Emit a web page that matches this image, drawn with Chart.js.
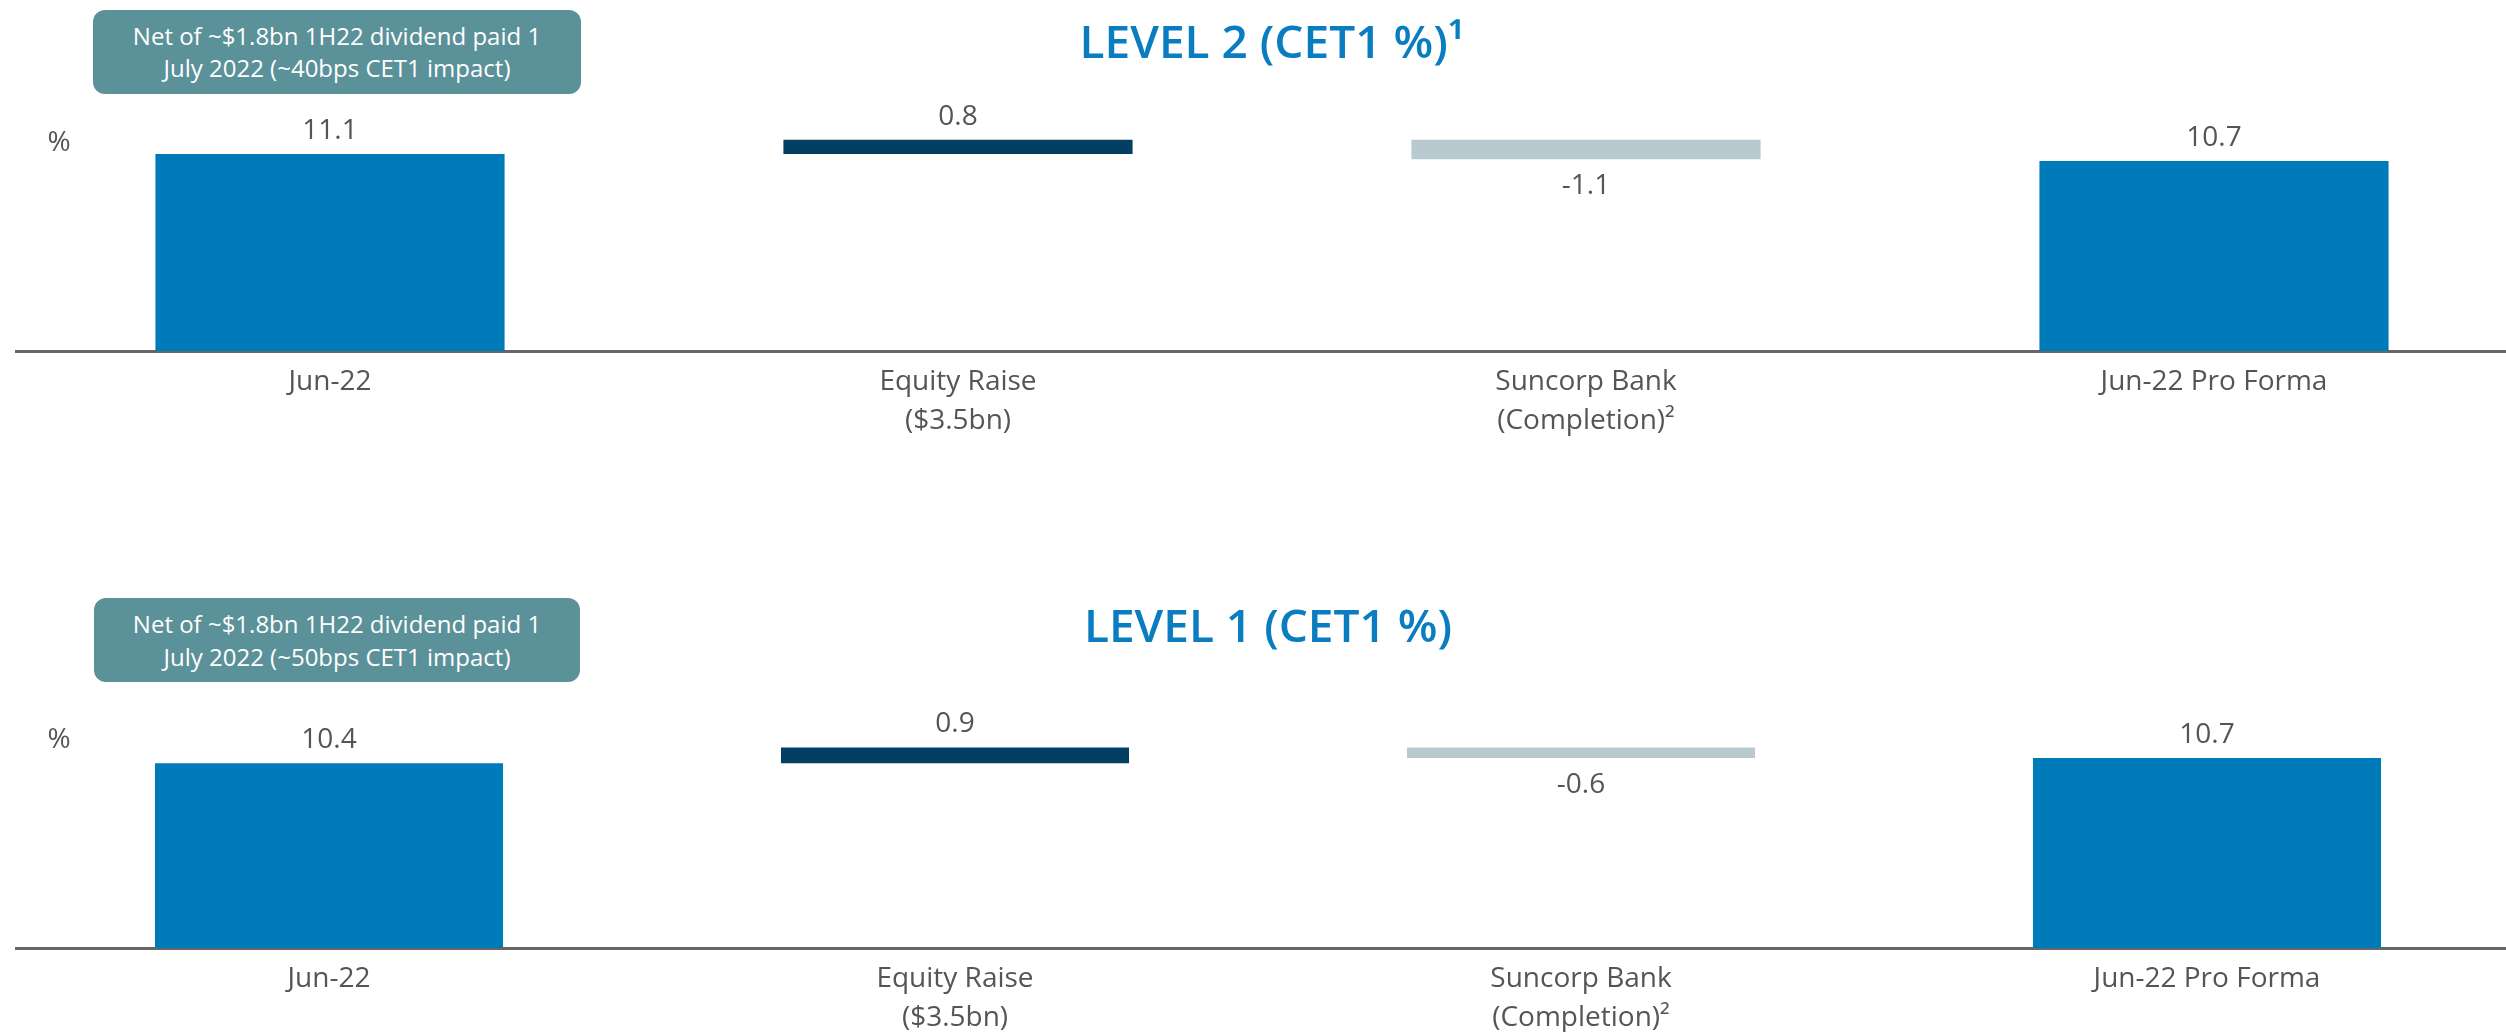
<!DOCTYPE html>
<html>
<head>
<meta charset="utf-8">
<script src="https://cdn.jsdelivr.net/npm/chart.js@4.4.1/dist/chart.umd.min.js"></script>
<style>
  html, body { margin: 0; padding: 0; background: #fff; overflow: hidden; width: 2506px; height: 1032px; position: relative; }
  canvas { position: absolute; left: 0; }
  .note {
    position: absolute; box-sizing: border-box;
    background: #5b9199; color: #fff; border-radius: 12px;
    display: flex; flex-direction: column; justify-content: center; align-items: center;
    font-family: "Open Sans", sans-serif; font-size: 24px;
  }
</style>
</head>
<body>
<canvas id="level2Chart" width="2530" height="451" style="top:0"></canvas>
<canvas id="level1Chart" width="2530" height="464" style="top:584px"></canvas>
<div class="note" style="left:93px; top:10px; width:488px; height:84px; line-height:32px;">
  <div>Net of ~$1.8bn 1H22 dividend paid 1</div>
  <div>July 2022 (~40bps CET1 impact)</div>
</div>
<div class="note" style="left:94px; top:598px; width:486px; height:84px; line-height:33px;">
  <div>Net of ~$1.8bn 1H22 dividend paid 1</div>
  <div>July 2022 (~50bps CET1 impact)</div>
</div>
<script>
const FONT = '"Open Sans", sans-serif';

const categories = [['Jun-22'], ['Equity Raise', '($3.5bn)'], ['Suncorp Bank', '(Completion)²'], ['Jun-22 Pro Forma']];
const stepTypes = ['total', 'delta', 'delta', 'total'];
const level2Values = [11.1, 0.8, -1.1, 10.7];
const level1Values = [10.4, 0.9, -0.6, 10.7];
const barColors = ['#007bba', '#023f63', '#b8c9d0', '#007bba'];

// turn the steps into floating [start, end] bars
function waterfall(values) {
  let running = 0;
  return values.map((v, i) => {
    if (stepTypes[i] === 'total') {
      running = v;
      return [0, v];
    }
    const start = running;
    running = running + v;
    return [start, running];
  });
}

const valueLabels = {
  id: 'valueLabels',
  afterDatasetsDraw(chart) {
    const ctx = chart.ctx;
    const values = chart.data.datasets[0].stepValues;
    const meta = chart.getDatasetMeta(0);
    ctx.save();
    ctx.font = '28px ' + FONT;
    ctx.fillStyle = '#555555';
    ctx.textAlign = 'center';
    ctx.textBaseline = 'middle';
    meta.data.forEach((bar, i) => {
      const p = bar.getProps(['x', 'y', 'base'], true);
      const top = Math.min(p.y, p.base);
      const bottom = Math.max(p.y, p.base);
      if (values[i] >= 0) {
        ctx.fillText(values[i].toFixed(1), p.x, top - 23);
      } else {
        ctx.fillText(values[i].toFixed(1), p.x, bottom + 27);
      }
    });
    ctx.fillText('%', 59, chart.chartArea.bottom - 208);
    ctx.restore();
  }
};

function renderChart(id, title, values, titlePad, rightPad) {
  const ctx = document.getElementById(id).getContext('2d');
  new Chart(ctx, {
    type: 'bar',
    data: {
      labels: categories,
      datasets: [{
        data: waterfall(values),
        stepValues: values,
        backgroundColor: barColors,
        borderWidth: 0,
        barPercentage: 0.556,
        categoryPercentage: 1
      }]
    },
    options: {
      responsive: false,
      animation: false,
      layout: { padding: { left: 16, right: rightPad, top: 0, bottom: 0 } },
      plugins: {
        legend: { display: false },
        tooltip: { enabled: false },
        title: {
          display: true,
          text: title,
          color: '#0a7dc0',
          font: { family: FONT, size: 46, weight: '600', lineHeight: 1.2 },
          padding: titlePad
        }
      },
      scales: {
        x: {
          grid: { display: false, drawTicks: false },
          border: { display: true, color: '#666666', width: 3 },
          ticks: {
            color: '#555555',
            font: { family: FONT, size: 28, lineHeight: 1.39 },
            padding: 12,
            maxRotation: 0,
            autoSkip: false
          },
          afterFit(scale) { scale.height = 100; }
        },
        y: { display: false, min: 0, max: 13 }
      }
    },
    plugins: [valueLabels]
  });
}

renderChart('level2Chart', 'LEVEL 2 (CET1 %)¹', level2Values, { top: 17, bottom: 48 }, 2);
renderChart('level1Chart', 'LEVEL 1 (CET1 %)', level1Values, { top: 17, bottom: 61 }, 10);
</script>
</body>
</html>
